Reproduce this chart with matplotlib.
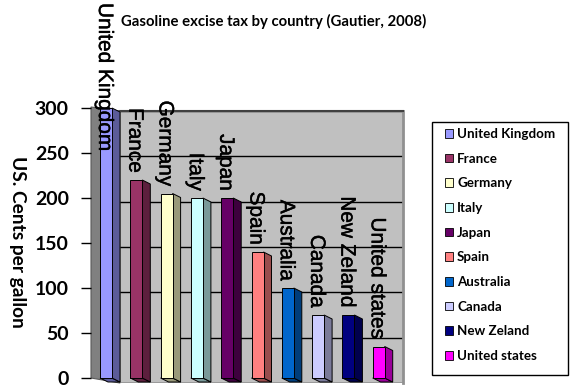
import matplotlib
matplotlib.use("Agg")
import matplotlib.pyplot as plt
from matplotlib.patches import Polygon, Patch, Rectangle
import matplotlib.patheffects as pe
import numpy as np

# ---------------- data ----------------
countries = ["United Kingdom", "France", "Germany", "Italy", "Japan",
             "Spain", "Australia", "Canada", "New Zeland", "United states"]
tax_cents = [300, 220, 205, 200, 200, 140, 100, 70, 70, 35]
front_colors = ["#9999FF", "#993366", "#FFFFCC", "#CCFFFF", "#660066",
                "#FF8080", "#0066CC", "#CCCCFF", "#000080", "#FF00FF"]
side_colors = ["#5C5C99", "#5C1F3D", "#99997A", "#7A9999", "#3D003D",
               "#994D4D", "#003D7A", "#7A7A99", "#00004D", "#990099"]
y_ticks = [0, 50, 100, 150, 200, 250, 300]
title_text = "Gasoline excise tax by country (Gautier, 2008)"
y_label = "US. Cents per gallon"

# ---------------- layout ----------------
W, H = 577, 391
fig = plt.figure(figsize=(W / 100, H / 100), dpi=100)
fig.patch.set_facecolor("white")


def rect(x0, y0, x1, y1):
    return [x0 / W, 1 - y1 / H, (x1 - x0) / W, (y1 - y0) / H]


def fpt(x, y):
    return (x / W, 1 - y / H)


# back wall
ax_wall = fig.add_axes(rect(120, 111, 403, 383))
ax_wall.set_facecolor("#C0C0C0")
ax_wall.set_xlim(0, 1)
ax_wall.set_ylim(0, 300)
ax_wall.set_yticks(y_ticks)
ax_wall.tick_params(left=False, bottom=False, labelleft=False, labelbottom=False)
ax_wall.set_xticks([])
ax_wall.grid(axis="y", color="black", linewidth=1.0)
for s in ["left", "bottom"]:
    ax_wall.spines[s].set_visible(False)
ax_wall.spines["top"].set_color("#404040")
ax_wall.spines["top"].set_linewidth(1.5)
ax_wall.spines["right"].set_color("#909090")
ax_wall.spines["right"].set_linewidth(2)

# left side wall (decoration)
lw_poly = Polygon([fpt(91, 107), fpt(120, 111), fpt(120, 383), fpt(91, 378)],
                  closed=True, transform=fig.transFigure, facecolor="#808080",
                  edgecolor="#5a5a5a", linewidth=0.8, zorder=1)
fig.patches.append(lw_poly)

# front axes with the bars
ax = fig.add_axes(rect(91, 108, 403, 378))
ax.set_facecolor("none")
spacing = 30.3
x_left = (91 - 106) / spacing
x_right = (403 - 106) / spacing
ax.set_xlim(x_left, x_right)
ax.set_ylim(0, 300)
ax.set_zorder(2)

x = np.arange(len(countries))
bw = 12 / spacing
dx = 8 / spacing
px_per_unit = 270 / 300
dy = 4 / px_per_unit

ax.bar(x, tax_cents, width=bw, color=front_colors, edgecolor="black",
       linewidth=0.7, zorder=3, clip_on=False)
for xi, v, sc in zip(x, tax_cents, side_colors):
    xr = xi + bw / 2
    xl = xi - bw / 2
    side = Polygon([(xr, v), (xr + dx, v - dy), (xr + dx, -dy), (xr, 0)],
                   closed=True, facecolor=sc, edgecolor="black",
                   linewidth=0.7, zorder=2.9, clip_on=False)
    ax.add_patch(side)
    bottom = Polygon([(xl, 0), (xr, 0), (xr + dx, -dy), (xl + dx, -dy)],
                     closed=True, facecolor=sc, edgecolor="black",
                     linewidth=0.7, zorder=2.8, clip_on=False)
    ax.add_patch(bottom)

ax.set_yticks(y_ticks)
ax.set_xticks([])
for s in ["top", "right", "bottom", "left"]:
    ax.spines[s].set_visible(False)
ax.tick_params(axis="y", length=7, width=1, pad=9, labelsize=14,
               direction="out")
for lab in ax.get_yticklabels():
    lab.set_fontweight("bold")
    lab.set_family("Lato")

# category labels (rotated) above bars
labels = []
for xi, v, name in zip(x, tax_cents, countries):
    t = ax.annotate(name, xy=(xi - 0.05, v), xytext=(0, 5),
                    textcoords="offset points", rotation=-90,
                    ha="center", va="bottom", fontsize=15,
                    family="Liberation Sans", zorder=5,
                    annotation_clip=False,
                    path_effects=[pe.withStroke(linewidth=0.3,
                                                foreground="black")])
    labels.append(t)

fig.canvas.draw()
renderer = fig.canvas.get_renderer()
for t in labels:
    bb = t.get_window_extent(renderer)
    top_limit = H - 3
    if bb.y1 > top_limit:
        shift = (bb.y1 - top_limit) * 72 / fig.dpi
        ox, oy = t.xyann
        t.xyann = (ox, oy - shift)

# title & y label
fig.text(274 / W, 1 - 21.5 / H, title_text, ha="center", va="center",
         fontsize=10.7, fontweight="bold", family="Lato")
fig.text(17 / W, 1 - 242 / H, y_label, ha="center", va="center",
         rotation=-90, fontsize=13.8, fontweight="bold", family="Lato")

# legend frame + legend entries
frame = Rectangle(fpt(432, 375), 136 / W, 253 / H, transform=fig.transFigure,
                  facecolor="white", edgecolor="black", linewidth=1.0,
                  zorder=0.5)
fig.patches.append(frame)
handles = [Patch(facecolor=c, edgecolor="black", linewidth=0.6)
           for c in front_colors]
leg = fig.legend(handles, countries, loc="upper left",
                 bbox_to_anchor=(445 / W, 1 - 128 / H),
                 frameon=False,
                 prop={"family": "Lato", "weight": "bold", "size": 9.6},
                 handlelength=0.6, handleheight=0.6, handletextpad=0.3,
                 labelspacing=0.95, borderpad=0.0, borderaxespad=0)

fig.savefig("out.png", dpi=100)
